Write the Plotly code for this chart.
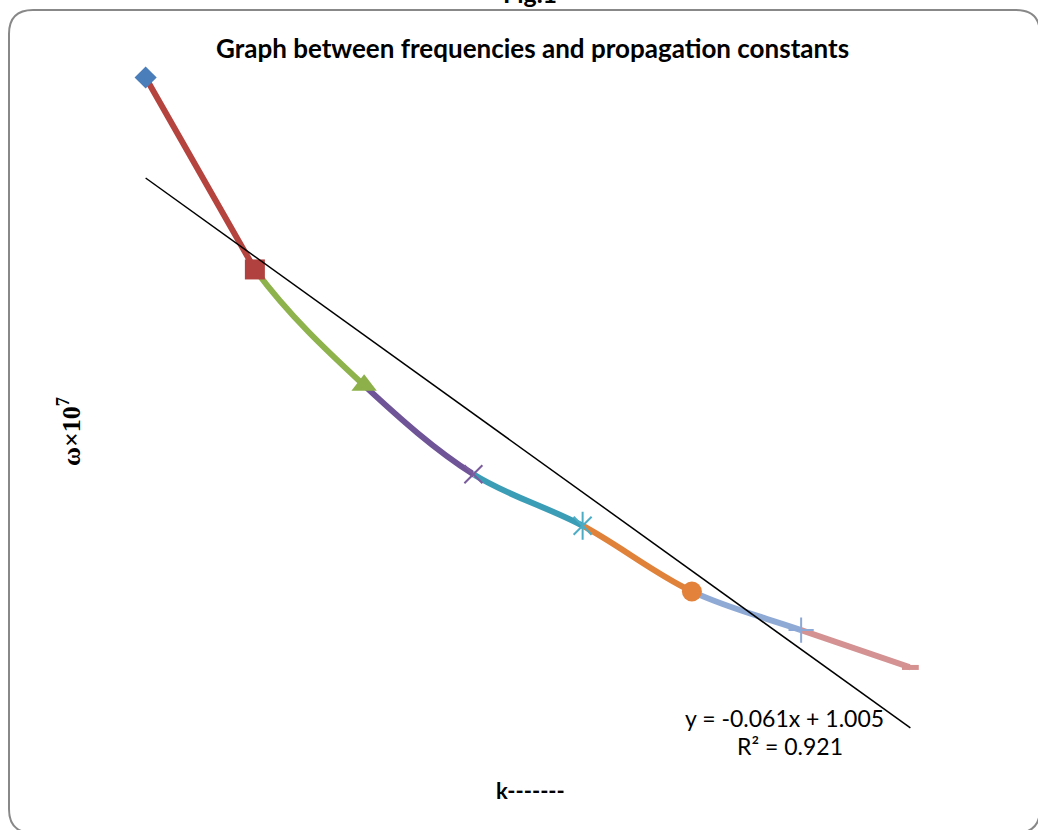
import plotly.graph_objects as go

# ---------------- data ----------------
k_vals = [1, 2, 3, 4, 5, 6, 7, 8]
omega_vals = [1.022, 0.873, 0.783, 0.714, 0.674, 0.623, 0.593, 0.564]
marker_symbols = ["diamond", "square", "triangle-up", "x-thin", "x-thin", "circle", "cross-thin", "line-ew"]
marker_colors = ["#4A7EBB", "#B0413E", "#8DB04A", "#7A5C9E", "#4BACC6", "#E3823B", "#8CA8D6", "#D59090"]
segment_colors = ["#B5443F", "#8EB24C", "#6F5497", "#3C9DB6", "#E0823A", "#90AAD6", "#D49292"]
trend_slope = -0.061
trend_intercept = 1.005
r_squared = 0.921
title_text = "Graph between frequencies and propagation constants"
fig_label = "Fig.1"
x_label = "k-------"
y_label = "ω×10<sup>7</sup>"

# ---------------- layout geometry ----------------
W, H = 1038, 830
L, R, T, B = 91, 73, 60, 70
X_RANGE = [0.5, 8.5]
Y_RANGE = [0.49214, 1.03561]
plot_w = W - L - R
plot_h = H - T - B


def px_to_paper_x(px):
    return (px - L) / plot_w


def px_to_paper_y(py):
    return (H - B - py) / plot_h


def frac(k):
    return (k - X_RANGE[0]) / (X_RANGE[1] - X_RANGE[0])


fig = go.Figure()
layout_axes = {}

# coloured segments: full smoothed series clipped to each segment's own subplot
n_seg = len(k_vals) - 1
for i in range(n_seg):
    ax_name = "x" if i == 0 else f"x{i + 1}"
    key = "xaxis" if i == 0 else f"xaxis{i + 1}"
    layout_axes[key] = dict(domain=[frac(k_vals[i]), frac(k_vals[i + 1])],
                            range=[k_vals[i], k_vals[i + 1]], visible=False, anchor="y")
    fig.add_trace(go.Scatter(
        x=k_vals, y=omega_vals, xaxis=ax_name, yaxis="y", mode="lines",
        line=dict(color=segment_colors[i], width=6,
                  shape="linear" if i == 0 else "spline"),
        hoverinfo="skip", showlegend=False))

# full-width axis for markers and trendline (drawn last, on top)
full_ax = f"x{n_seg + 1}"
layout_axes[f"xaxis{n_seg + 1}"] = dict(domain=[0, 1], range=X_RANGE, visible=False, anchor="y")

marker_sizes = [17, 20, 22, 18, 18, 20, 18, 12]
marker_line_w = [0, 0, 0, 2, 2, 0, 2, 5]
fig.add_trace(go.Scatter(
    x=k_vals, y=omega_vals, xaxis=full_ax, yaxis="y", mode="markers",
    marker=dict(symbol=marker_symbols, color=marker_colors, size=marker_sizes, opacity=1,
                line=dict(color=marker_colors, width=marker_line_w)),
    cliponaxis=False, showlegend=False))
# vertical stroke of the star marker
fig.add_trace(go.Scatter(
    x=[k_vals[4]], y=[omega_vals[4]], xaxis=full_ax, yaxis="y", mode="markers",
    marker=dict(symbol="line-ns", size=20, opacity=1, line=dict(color=marker_colors[4], width=2)),
    cliponaxis=False, showlegend=False))

# linear trendline
trend_x = [k_vals[0], k_vals[-1]]
trend_y = [trend_slope * x + trend_intercept for x in trend_x]
fig.add_trace(go.Scatter(
    x=trend_x, y=trend_y, xaxis=full_ax, yaxis="y", mode="lines",
    line=dict(color="black", width=1.5), showlegend=False))


# rounded chart border
def rounded_rect(x0, y0, x1, y1, r):
    X = px_to_paper_x
    Y = px_to_paper_y
    return (f"M {X(x0 + r)},{Y(y0)} L {X(x1 - r)},{Y(y0)} "
            f"Q {X(x1)},{Y(y0)} {X(x1)},{Y(y0 + r)} "
            f"L {X(x1)},{Y(y1 - r)} Q {X(x1)},{Y(y1)} {X(x1 - r)},{Y(y1)} "
            f"L {X(x0 + r)},{Y(y1)} Q {X(x0)},{Y(y1)} {X(x0)},{Y(y1 - r)} "
            f"L {X(x0)},{Y(y0 + r)} Q {X(x0)},{Y(y0)} {X(x0 + r)},{Y(y0)} Z")


fig.add_shape(type="path", xref="paper", yref="paper",
              path=rounded_rect(9, 10, 1040, 833, 24),
              line=dict(color="#888888", width=2), layer="below")

cal = "Lato, 'Open Sans', sans-serif"
annotations = [
    dict(text=f"<b>{fig_label}</b>", x=px_to_paper_x(530), y=px_to_paper_y(10),
         xanchor="center", yanchor="bottom", font=dict(family=cal, size=25, color="black")),
    dict(text=f"<b>{title_text}</b>", x=px_to_paper_x(532), y=px_to_paper_y(48),
         xanchor="center", yanchor="middle", font=dict(family=cal, size=26, color="black")),
    dict(text=f"<b>{x_label}</b>", x=px_to_paper_x(530), y=px_to_paper_y(790),
         xanchor="center", yanchor="middle", font=dict(family=cal, size=22, color="black")),
    dict(text=f"<b>{y_label}</b>", x=px_to_paper_x(70), y=px_to_paper_y(432),
         xanchor="center", yanchor="middle", textangle=-90,
         font=dict(family="'Liberation Serif', serif", size=26, color="black")),
    dict(text=f"y = {trend_slope:.3f}x + {trend_intercept:.3f}", x=px_to_paper_x(784),
         y=px_to_paper_y(718), xanchor="center", yanchor="middle",
         font=dict(family=cal, size=23, color="black")),
    dict(text=f"R² = {r_squared:.3f}", x=px_to_paper_x(790), y=px_to_paper_y(746),
         xanchor="center", yanchor="middle", font=dict(family=cal, size=23, color="black")),
]
for a in annotations:
    a.update(xref="paper", yref="paper", showarrow=False)

fig.update_layout(
    width=W, height=H,
    margin=dict(l=L, r=R, t=T, b=B, pad=0),
    paper_bgcolor="white", plot_bgcolor="rgba(0,0,0,0)",
    showlegend=False,
    yaxis=dict(range=Y_RANGE, visible=False, domain=[0, 1], anchor="x"),
    annotations=annotations,
    **layout_axes,
)

fig.write_html("out.html", config={"displayModeBar": False},
               post_script="document.body.style.margin='0';document.body.style.overflow='hidden';")
